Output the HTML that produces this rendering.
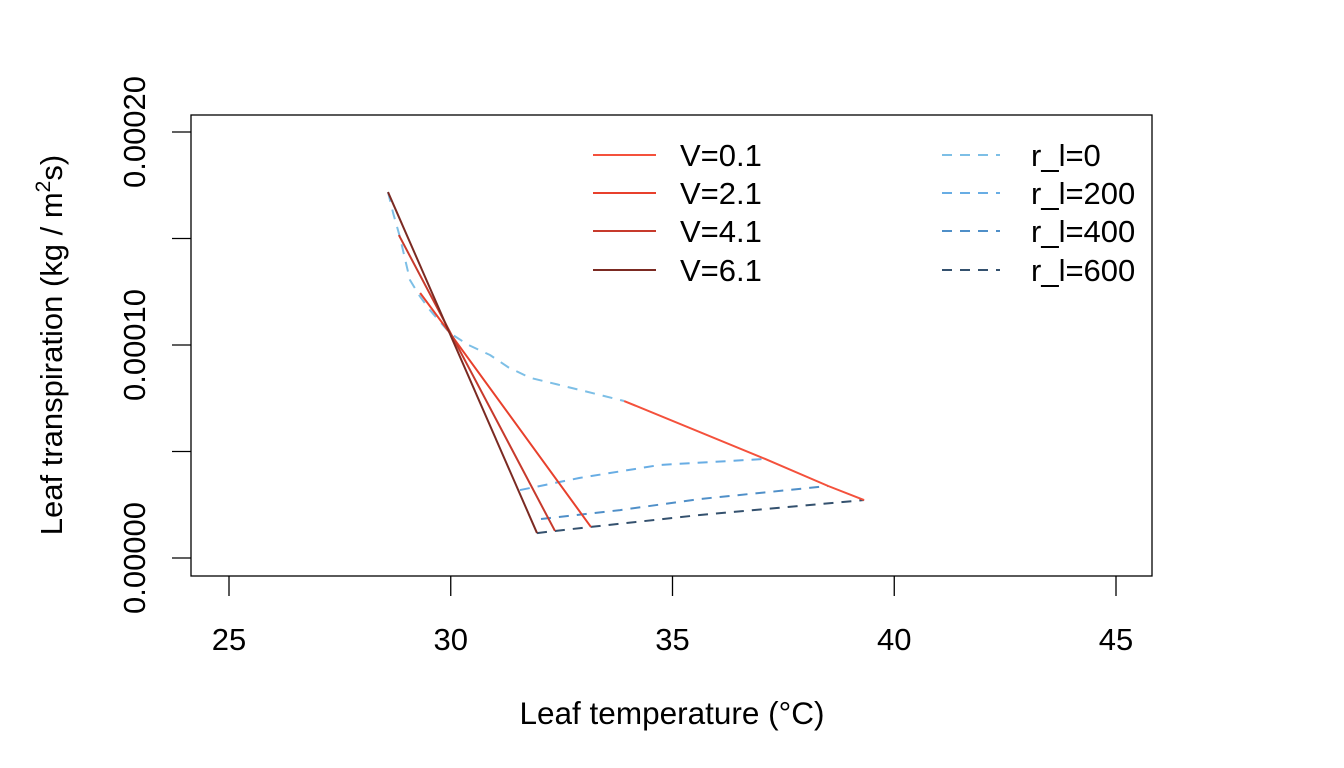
<!DOCTYPE html>
<html><head><meta charset="utf-8"><style>
html,body{margin:0;padding:0;background:#fff;}
svg{display:block;font-family:"Liberation Sans",Arial,sans-serif;}
</style></head><body>
<svg id="chart" width="1344" height="768" viewBox="0 0 1344 768" xmlns="http://www.w3.org/2000/svg">
<rect x="191" y="115" width="961" height="461" fill="none" stroke="#000" stroke-width="1.3"/>
<g id="axes"></g>
<g id="series"></g>
<g id="legend"></g>
<text x="672" y="724" font-size="31.5" text-anchor="middle">Leaf temperature (°C)</text>
<text transform="translate(62,345) rotate(-90)" font-size="31" text-anchor="middle">Leaf transpiration (kg / m<tspan font-size="21" dy="-12">2</tspan><tspan dy="12">s)</tspan></text>
</svg>
<script>
const xTicks=[25,30,35,40,45];
const yTicks=[0,0.00005,0.0001,0.00015,0.0002];
const yTickLabels=["0.00000","","0.00010","","0.00020"];
// series polylines [temperature, transpiration]
const v01T=[33.91,37.09,38.51,39.32];
const v01E=[0.0000737,0.0000465,0.0000338,0.0000272];
const v21T=[29.31,29.98,33.16];
const v21E=[0.0001244,0.0001056,0.0000146];
const v41T=[28.83,32.35];
const v41E=[0.0001516,0.0000127];
const v61T=[28.585,31.945];
const v61E=[0.0001718,0.0000117];
const r0T=[28.585,28.7,28.85,29.08,29.3,29.53,29.98,30.4,30.885,31.3,31.79,32.4,32.91,33.91];
const r0E=[0.0001718,0.0001620,0.0001510,0.0001305,0.0001230,0.0001164,0.0001056,0.0001000,0.0000953,0.0000895,0.0000846,0.0000815,0.0000789,0.0000737];
const r200T=[31.56,32.91,34.72,37.09];
const r200E=[0.0000319,0.0000376,0.0000437,0.0000465];
const r400T=[32.035,33.82,35.62,38.51];
const r400E=[0.0000183,0.0000225,0.0000277,0.0000338];
const r600T=[31.945,32.35,33.16,35.62,39.32];
const r600E=[0.0000117,0.0000127,0.0000146,0.0000202,0.0000272];
const legendV=["V=0.1","V=2.1","V=4.1","V=6.1"];
const legendR=["r_l=0","r_l=200","r_l=400","r_l=600"];
const vColors=["#f4513c","#e8402c","#c73a2c","#7b2a22"];
const rColors=["#7dbfe6","#68ade4","#4f8fc8","#34516e"];

const NS="http://www.w3.org/2000/svg";
const xs=t=>229+(t-25)*(1116-229)/20;
const ys=e=>558-e*(558-132)/0.0002;
function mk(tag,attrs,parent){const el=document.createElementNS(NS,tag);for(const k in attrs)el.setAttribute(k,attrs[k]);parent.appendChild(el);return el;}
const axes=document.getElementById('axes');
xTicks.forEach(t=>{
  const l=mk('line',{x1:xs(t),x2:xs(t),y1:576,y2:596,stroke:'#000','stroke-width':1.3},axes);
  
  
  const tx=mk('text',{x:xs(t),y:650,'font-size':31,'text-anchor':'middle'},axes);
  tx.textContent=t;
  
  
});
yTicks.forEach((v,i)=>{
  const l=mk('line',{x1:172,x2:191,y1:ys(v),y2:ys(v),stroke:'#000','stroke-width':1.3},axes);
  
  
  if(yTickLabels[i]){
    const tx=mk('text',{transform:`translate(145,${ys(v)}) rotate(-90)`,'font-size':31,'text-anchor':'middle'},axes);
    tx.textContent=yTickLabels[i];
    
    
  }
});
const ser=document.getElementById('series');
function line(T,E,color,dash,name){
  const p=mk('polyline',{points:T.map((t,i)=>xs(t)+','+ys(E[i])).join(' '),fill:'none',stroke:color,'stroke-width':2,'stroke-linejoin':'round','stroke-dasharray':dash?'10,8':'none'},ser);
  
  
}
line(r0T,r0E,rColors[0],true,'line-rl-0');
line(r200T,r200E,rColors[1],true,'line-rl-200');
line(r400T,r400E,rColors[2],true,'line-rl-400');
line(r600T,r600E,rColors[3],true,'line-rl-600');
line(v01T,v01E,vColors[0],false,'line-v-0-1');
line(v21T,v21E,vColors[1],false,'line-v-2-1');
line(v41T,v41E,vColors[2],false,'line-v-4-1');
line(v61T,v61E,vColors[3],false,'line-v-6-1');
const lg=document.getElementById('legend');
const rowsY=[155,193,231,270];
legendV.forEach((s,i)=>{
  const l=mk('line',{x1:593,x2:656,y1:rowsY[i],y2:rowsY[i],stroke:vColors[i],'stroke-width':2},lg);
  
  
  const t=mk('text',{x:680,y:rowsY[i]+11,'font-size':31},lg);
  t.textContent=s;
  
  
});
legendR.forEach((s,i)=>{
  const l=mk('line',{x1:942,x2:1000,y1:rowsY[i],y2:rowsY[i],stroke:rColors[i],'stroke-width':2,'stroke-dasharray':'10,8'},lg);
  
  
  const t=mk('text',{x:1031,y:rowsY[i]+11,'font-size':31},lg);
  t.textContent=s;
  
  
});
</script>
</body></html>
